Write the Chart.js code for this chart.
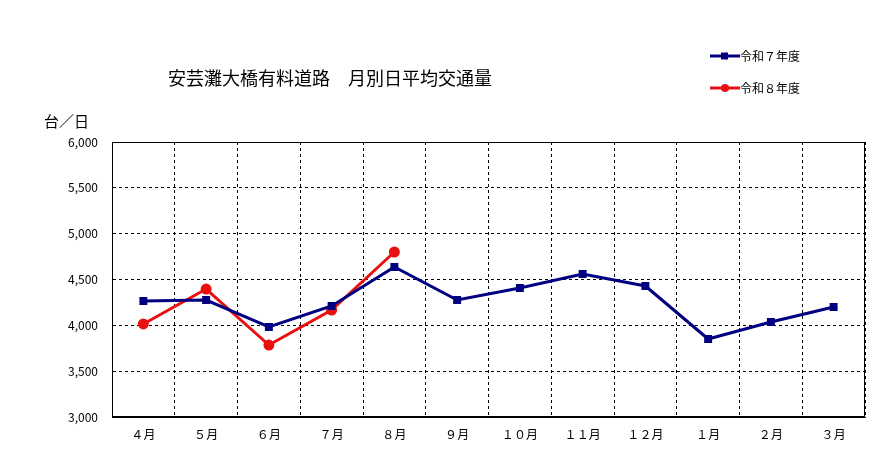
<!DOCTYPE html>
<html>
<head>
<meta charset="utf-8">
<script src="https://cdn.jsdelivr.net/npm/chart.js@4"></script>
<style>
  body { margin: 0; background: #fff; font-family: "Noto Sans CJK JP", sans-serif; }
  #wrap { position: relative; width: 872px; height: 453px; }
  .txt { position: absolute; color: #000; white-space: nowrap; }
  .leg { position: absolute; font-size: 12px; display: flex; align-items: center; }
</style>
</head>
<body>
<div id="wrap">
  <canvas id="c" width="872" height="453"></canvas>
  <div class="txt" style="left:168px;top:64px;font-size:18px;">安芸灘大橋有料道路　月別日平均交通量</div>
  <div class="txt" style="left:44px;top:110px;font-size:15px;">台／日</div>
  <div class="leg" style="left:710px;top:47px;"><svg width="30" height="10"><line x1="0" y1="5" x2="30" y2="5" stroke="#000080" stroke-width="3"/><rect x="11" y="1.5" width="7" height="7" fill="#000080"/></svg>令和７年度</div>
  <div class="leg" style="left:710px;top:79px;"><svg width="30" height="10"><line x1="0" y1="5" x2="30" y2="5" stroke="#e81010" stroke-width="3"/><circle cx="15" cy="5" r="4" fill="#e81010"/></svg>令和８年度</div>
</div>
<script>
// data
var months = ['４月', '５月', '６月', '７月', '８月', '９月', '１０月', '１１月', '１２月', '１月', '２月', '３月'];
var r7 = [4266, 4276, 3982, 4211, 4636, 4276, 4407, 4560, 4429, 3851, 4036, 4200];
var r8 = [4015, 4396, 3785, 4167, 4800];

var tickFont = { family: '"Noto Sans CJK JP", sans-serif', size: 12 };

new Chart(document.getElementById('c'), {
  type: 'line',
  data: {
    labels: months,
    datasets: [
      { label: '令和７年度', data: r7, borderColor: '#000080', backgroundColor: '#000080',
        borderWidth: 3, pointStyle: 'rect', pointRadius: 3.5, tension: 0 },
      { label: '令和８年度', data: r8, borderColor: '#e81010', backgroundColor: '#e81010',
        borderWidth: 3, pointStyle: 'circle', pointRadius: 4, tension: 0 }
    ]
  },
  options: {
    responsive: false,
    animation: false,
    layout: { padding: { left: 0, top: 142, right: 6, bottom: 0 } },
    plugins: { legend: { display: false }, tooltip: { enabled: false } },
    scales: {
      x: {
        offset: true,
        grid: { offset: true, color: '#000', drawTicks: false },
        border: { color: '#000', dash: [3, 3] },
        ticks: { color: '#000', font: tickFont, padding: 10 },
        afterFit: function(s) { s.height = 36; }
      },
      y: {
        min: 3000, max: 6000,
        grid: { color: '#000', drawTicks: false },
        border: { color: '#000', dash: [3, 3] },
        ticks: { stepSize: 500, color: '#000', font: tickFont, padding: 14,
          callback: function(v) { return v.toLocaleString('en-US'); } },
        afterFit: function(s) { s.width = 112; }
      }
    }
  },
  plugins: [{
    id: 'frame',
    beforeDatasetsDraw: function(chart) {
      var a = chart.chartArea, ctx = chart.ctx;
      ctx.save();
      ctx.strokeStyle = '#000';
      ctx.lineWidth = 1;
      ctx.strokeRect(a.left + 0.5, a.top + 0.5, a.right - a.left - 1, a.bottom - a.top - 1);
      ctx.restore();
    }
  }]
});
</script>
</body>
</html>
